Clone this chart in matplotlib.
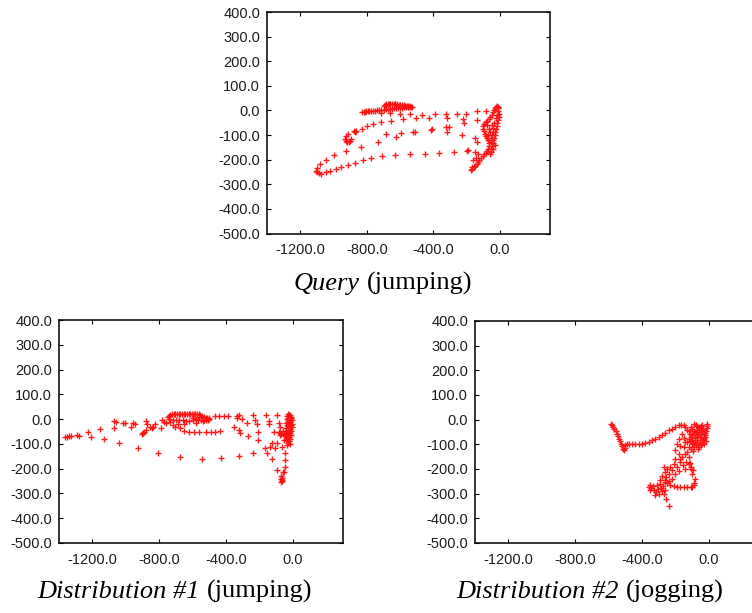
import matplotlib
matplotlib.use("Agg")
import matplotlib.pyplot as plt
from matplotlib.ticker import FormatStrFormatter

# ---- trajectory samples (x, y) ----
query_x = [
    # upper streak
    -828, -820, -812, -805, -795, -785, -775, -765, -752, -740, -728, -715, -700, -688,
    -675, -662, -650, -638, -625, -612, -600, -588, -576, -565, -555, -545, -536, -530,
    # upper arc
    -700, -692, -684, -676, -668, -660, -650, -640, -630, -620, -610, -600, -590, -580,
    -570, -560, -550, -540,
    # upper dotted row
    -718, -662, -602, -540, -468, -427, -391, -325, -321, -261, -221, -215, -205, -140, -136, -85,
    -325,
    # diagonal
    -506, -586, -656, -718, -763, -799, -829, -863, -873,
    # left bend
    -880, -923, -929, -926, -918, -910, -903, -893, -915,
    # middle row
    -833, -733, -688, -626, -598, -522, -508, -415, -407, -317, -305, -231, -151, -140,
    # lower row
    -923, -997, -712, -632, -542, -452, -365, -275, -201, -191,
    # bottom curve
    -1048, -1080, -1098, -1104, -1100, -1090, -1074, -1048, -1024, -983, -953, -913, -873,
    -823, -773,
    # right loop, left side
    -20, -25, -30, -36, -42, -50, -58, -66, -76, -86, -95, -100, -102, -98, -92, -84, -76,
    -70, -66, -66, -70, -76, -84, -94,
    # right loop, right side
    -14, -10, -12, -9, -8, -12, -16, -20, -24, -28, -32, -36, -40, -44, -48, -52, -56, -62,
    # right loop, inside
    -50, -40, -60, -46, -56, -34, -26, -66, -30, -40, -18, -80, -52, -44, -70,
    # tail
    -104, -114, -124, -132, -140, -150, -158, -166, -172, -144, -134, -150, -160, -168,
]
query_y = [
    -5, -5, -5, -4, -4, -3, -3, -2, -1, 0, 1, 2, 3, 4,
    5, 6, 7, 8, 9, 10, 10, 11, 12, 12, 13, 13, 14, 14,
    20, 24, 26, 27, 27, 27, 27, 26, 26, 25, 24, 23, 22, 21,
    20, 19, 18, 17,
    -10, -12, -13, -16, -19, -29, -15, -15, -29, -16, -35, -53, -15, -3, -40, -1,
    -66,
    -32, -36, -42, -46, -54, -63, -74, -84, -87,
    -84, -103, -114, -123, -130, -128, -124, -117, -95,
    -148, -127, -96, -107, -93, -89, -86, -81, -76, -89, -66, -100, -111, -130,
    -165, -181, -184, -182, -179, -175, -171, -168, -164, -161,
    -202, -216, -232, -245, -252, -256, -258, -252, -245, -236, -229, -222, -213,
    -203, -193,
    20, 14, 8, 0, -8, -18, -28, -36, -42, -48, -55, -64, -74, -84, -94, -102, -110,
    -120, -132, -144, -156, -166, -172, -176,
    16, 8, -2, -14, -26, -38, -50, -62, -74, -86, -98, -110, -122, -134, -146, -158, -168, -176,
    -60, -72, -88, -100, -112, -50, -30, -76, -140, -156, -20, -60, -128, -88, -100,
    -184, -192, -200, -208, -216, -224, -230, -236, -240, -192, -175, -168, -200, -228,
]

dist1_x = [
    # left tail
    -1363, -1353, -1339, -1329, -1293, -1279, -1229, -1209, -1154, -1130, -1071, -1061, -1071,
    -1041, -1015, -1007, -967, -955, -947, -929, -905, -898, -895, -889, -881, -878, -872,
    -856, -842, -836, -826, -806, -792, -782, -772, -762,
    # loop top
    -742, -733, -723, -713, -703, -693, -683, -673, -663, -653, -643, -633, -623, -613, -603,
    -593, -583, -573, -563, -553,
    # loop tip
    -543, -533, -523, -513, -505, -503, -510,
    # loop bottom
    -520, -535, -550, -565, -580, -600, -620, -640, -660, -680, -700, -720, -735, -740, -745,
    -600, -560, -580, -690, -720, -650, -540,
    # lower arc
    -703, -677, -653, -623, -593, -563, -523, -493, -464, -434,
    # right of the loop
    -468, -440, -414, -390,
    -354, -334, -324, -318, -334, -324, -304, -277, -271, -239, -229, -213, -207, -207,
    # sparse bottom row
    -239, -324, -430, -547, -675,
    # near the column
    -159, -145, -145, -111, -96, -86, -76, -125, -135, -165, -155, -105, -96, -56, -66, -46,
    -46, -56, -70, -66, -96, -125, -50, -60, -66, -70, -68, -72,
    # dense column
    -30, -24, -18, -34, -14, -28, -10, -36, -20, -8, -32, -16, -40, -24, -6, -36, -14, -28,
    -8, -40, -20, -32, -10, -44, -26, -16, -38, -30, -12, -44, -22, -34, -16, -40, -26, -30,
    -36, -20,
    # bulge
    -86, -78, -70, -62, -54, -80, -50, -58,
]
dist1_y = [
    -74, -73, -70, -70, -63, -70, -53, -72, -41, -80, -9, -12, -34,
    -97, -14, -14, -32, -14, -19, -115, -62, -55, -57, -50, -43, -9, -19,
    -30, -36, -32, -18, -135, -34, -5, -12, -16,
    14, 18, 20, 21, 21, 21, 21, 21, 21, 21, 21, 21, 21, 21, 21,
    20, 20, 20, 19, 18,
    14, 10, 6, 3, 2, 4, -2,
    -3, -5, -5, -3, 0, -5, -8, -8, -5, -3, -2, -5, -10, 0, 8,
    5, 8, -15, -20, -25, -20, -8,
    -30, -36, -47, -50, -53, -53, -53, -53, -50, -46,
    11, 12, 11, 11,
    -30, 6, -43, -57, 11, 15, 1, -16, -70, 18, -3, -19, -50, -84,
    -138, -147, -158, -162, -154,
    18, -9, -19, -53, 18, -16, -30, -97, -111, -115, -138, -115, -97, -84, -111, -165,
    -192, -212, -228, -236, -205, -161, -138, -215, -245, -253, -250, -240,
    20, 18, 16, 12, 10, 6, 4, 0, 0, -4, -8, -10, -14, -16, -18, -22, -24, -28,
    -32, -34, -38, -42, -46, -48, -50, -56, -58, -62, -66, -70, -72, -76, -82, -86, -90, -98,
    -104, -100,
    -52, -58, -62, -55, -60, -64, -70, -46,
]

dist2_x = [
    # hook
    -585, -577, -571, -565, -557, -551, -545, -537, -531, -525, -521, -517, -511, -505, -501,
    -491, -481, -461, -441, -421, -401, -381, -361, -341, -320, -300, -280, -260, -240, -220,
    -200, -180, -164, -150, -140,
    # right blob
    -10, -12, -14, -18, -22, -26, -30, -36, -42, -50, -58, -66,
    -40, -50, -60, -70, -80, -90, -100, -110, -120, -128,
    -90, -80, -70, -60, -50, -40, -30, -24, -20, -28,
    -110, -100, -88, -76, -64, -52, -44, -56, -68, -80, -92, -104, -116, -122, -130, -100, -86,
    -72, -62, -36, -46, -74, -96, -84, -112, -120, -108, -96,
    # central column
    -160, -180, -190, -200, -150, -160, -170, -190, -220, -240, -254, -264, -150, -140, -170,
    -130, -145, -180, -200, -120, -135, -155, -175, -210, -230, -250, -270, -260, -240, -200,
    -180, -220, -140, -120, -110,
    # lower loop
    -100, -86, -88, -90, -100, -110, -130, -150, -170, -190, -210, -230, -250, -260, -95, -105,
    -112,
    # lower-left cluster
    -361, -355, -345, -335, -321, -315, -305, -290, -285, -280, -270, -256, -240, -350, -330,
    -300, -310, -275, -265, -295, -280,
]
dist2_y = [
    -19, -23, -30, -36, -46, -57, -66, -77, -86, -97, -108, -118, -124, -115, -104,
    -100, -97, -97, -100, -100, -100, -95, -91, -84, -77, -70, -63, -54, -43, -36,
    -30, -20, -20, -23, -30,
    -16, -24, -34, -44, -54, -64, -74, -84, -94, -104, -112, -120,
    -20, -26, -32, -40, -48, -56, -64, -72, -80, -90,
    -18, -22, -26, -30, -38, -46, -56, -70, -86, -100,
    -30, -38, -44, -54, -62, -70, -80, -90, -98, -104, -110, -100, -60, -46, -40, -82, -76,
    -84, -50, -36, -58, -70, -94, -90, -88, -110, -120, -128,
    -57, -77, -97, -124, -111, -151, -172, -192, -205, -219, -232, -212, -75, -92, -105,
    -130, -140, -140, -160, -150, -170, -185, -160, -180, -190, -200, -190, -245, -250, -222,
    -210, -240, -200, -180, -200,
    -219, -239, -255, -266, -272, -273, -273, -273, -273, -273, -270, -266, -258, -253, -205, -190,
    -175,
    -273, -286, -278, -268, -307, -295, -280, -259, -275, -290, -300, -320, -351, -265, -285,
    -300, -265, -270, -285, -245, -230,
]

x_ticks = [-1200, -800, -400, 0]
y_ticks = [-500, -400, -300, -200, -100, 0, 100, 200, 300, 400]
x_range = (-1400, 300)
y_range = (-500, 400)

W, H = 752, 613
fig = plt.figure(figsize=(W / 100, H / 100), dpi=100)


def px_axes(left, top, right, bottom):
    return fig.add_axes([left / W, 1 - bottom / H, (right - left) / W, (bottom - top) / H])


def style(ax):
    ax.set_xlim(*x_range)
    ax.set_ylim(*y_range)
    ax.set_xticks(x_ticks)
    ax.set_yticks(y_ticks)
    ax.xaxis.set_major_formatter(FormatStrFormatter("%.1f"))
    ax.yaxis.set_major_formatter(FormatStrFormatter("%.1f"))
    ax.tick_params(direction="in", length=3.2, width=0.8, top=True, right=True,
                   labelsize=10.5, labelcolor="#1e1e1e", pad=5)
    ax.tick_params(axis="x", pad=7)
    for lab in ax.get_xticklabels() + ax.get_yticklabels():
        lab.set_family("Liberation Sans")
    for sp in ax.spines.values():
        sp.set_linewidth(1.1)
        sp.set_color("black")


panels = [
    ((267, 12, 550, 233.5), query_x, query_y),
    ((59, 320, 343, 543), dist1_x, dist1_y),
    ((475, 321, 759, 543), dist2_x, dist2_y),
]
for box, xs, ys in panels:
    ax = px_axes(*box)
    style(ax)
    ax.plot(xs, ys, linestyle="none", marker="+", markersize=3.8, mew=1.0,
            color="#ff1010", alpha=0.95)

# captions: italic name followed by upright activity
captions = [
    (383, 290, "Query", "(jumping)"),
    (175, 598, "Distribution #1", "(jumping)"),
    (590, 598, "Distribution #2", "(jogging)"),
]
cap_size = 19
fig.canvas.draw()
renderer = fig.canvas.get_renderer()
for cx, base, it_part, rm_part in captions:
    t1 = fig.text(0, 1 - base / H, it_part, family="Liberation Serif", style="italic",
                  size=cap_size, va="baseline", ha="left")
    t2 = fig.text(0, 1 - base / H, rm_part, family="Liberation Serif",
                  size=cap_size, va="baseline", ha="left")
    w1 = t1.get_window_extent(renderer).width
    w2 = t2.get_window_extent(renderer).width
    gap = 0.25 * cap_size * 100 / 72
    start = cx - (w1 + gap + w2) / 2
    t1.set_x(start / W)
    t2.set_x((start + w1 + gap) / W)

fig.savefig("out.png", dpi=100)
